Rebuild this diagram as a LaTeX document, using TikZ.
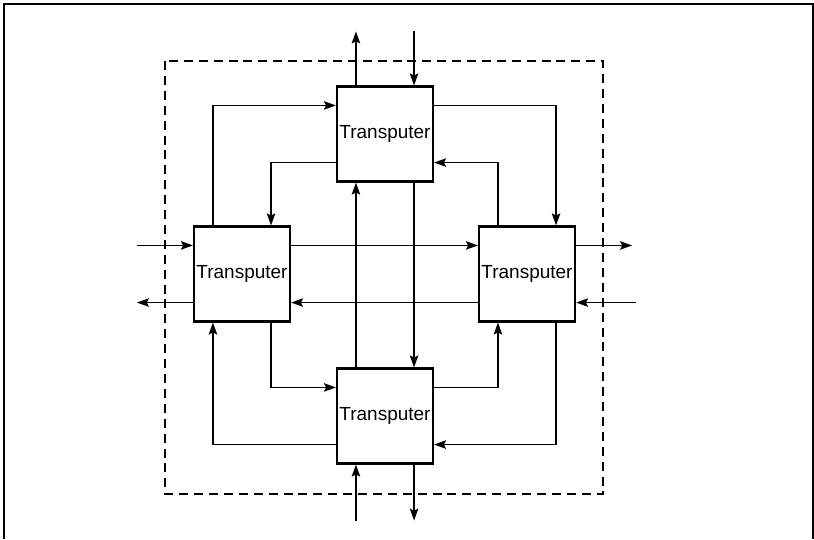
\documentclass[tikz,border=0pt]{standalone}
\usepackage{fontspec}
\setmainfont{Liberation Sans}
\usetikzlibrary{arrows.meta}

\begin{document}
\begin{tikzpicture}[x=0.025cm,y=-0.025cm,
	>={Stealth[length=8.5pt,width=6pt,inset=1.5pt]},
	link/.style={->,line width=1.2pt},
	tbox/.style={draw,line width=1.5pt,minimum width=2.4cm,minimum height=2.375cm,inner sep=1pt,font=\fontsize{13.5}{15}\selectfont}]
	\useasboundingbox (0,0) rectangle (814,539);
	\draw[line width=1.6pt] (4,539) -- (4,4) -- (813,4) -- (813,539);
	\draw[line width=1.2pt,dash pattern=on 6.4pt off 4.2pt] (165,61) rectangle (603,494);
	
									\foreach \x/\y [count=\n] in  
        							{385/134,242/274,527/274,385/416} 
           							\node[tbox](N\n) at (\x,\y) {Transputer};
           							
           							% free ends of the outside links
           							\coordinate (inL) at ([xshift=-1.4cm,yshift=-0.5cm]N2.north west);
           							\coordinate (outL) at ([xshift=-1.4cm,yshift=0.5cm]N2.south west);
           							\coordinate (outR) at ([xshift=1.4cm,yshift=-0.5cm]N3.north east);
           							\coordinate (inR) at ([xshift=1.5cm,yshift=0.5cm]N3.south east);
           							\coordinate (outT) at ([xshift=0.5cm,yshift=1.35cm]N1.north west);
           							\coordinate (inT) at ([xshift=-0.5cm,yshift=1.35cm]N1.north east);
           							\coordinate (inB) at ([xshift=0.5cm,yshift=-1.4cm]N4.south west);
           							\coordinate (outB) at ([xshift=-0.5cm,yshift=-1.4cm]N4.south east);
           							
           							\draw[link] (inL) -- ([yshift=-0.5cm]N2.north west);
           							\draw[link] ([yshift=0.5cm]N2.south west) -- (outL);
           							\draw[link] ([yshift=-0.5cm]N3.north east) -- (outR);
           							\draw[link] (inR) -- ([yshift=0.5cm]N3.south east);
           							\draw[link] ([xshift=0.5cm]N1.north west) -- (outT);
           							\draw[link] (inT) -- ([xshift=-0.5cm]N1.north east);
           							\draw[link] (inB) -- ([xshift=0.5cm]N4.south west);
           							\draw[link] ([xshift=-0.5cm]N4.south east) -- (outB);
           							
           							% links between the transputers
           							\draw[link] ([xshift=0.5cm]N2.north west) |- ([yshift=-0.5cm]N1.north west);
           							\draw[link] ([yshift=-0.5cm]N1.north east) -| ([xshift=-0.5cm]N3.north east);
           							\draw[link] ([yshift=0.5cm]N1.south west) -| ([xshift=-0.5cm]N2.north east);
           							\draw[link] ([xshift=0.5cm]N3.north west) |- ([yshift=0.5cm]N1.south east);
           							\draw[link] ([yshift=-0.5cm]N2.north east) -- ([yshift=-0.5cm]N3.north west);
           							\draw[link] ([yshift=0.5cm]N3.south west) -- ([yshift=0.5cm]N2.south east);
           							\draw[link] ([xshift=0.5cm]N4.north west) -- ([xshift=0.5cm]N1.south west);
           							\draw[link] ([xshift=-0.5cm]N1.south east) -- ([xshift=-0.5cm]N4.north east);
           							\draw[link] ([xshift=-0.5cm]N2.south east) |- ([yshift=-0.5cm]N4.north west);
           							\draw[link] ([yshift=-0.5cm]N4.north east) -| ([xshift=0.5cm]N3.south west);
           							\draw[link] ([xshift=-0.5cm]N3.south east) |- ([yshift=0.5cm]N4.south east);
           							\draw[link] ([yshift=0.5cm]N4.south west) -| ([xshift=0.5cm]N2.south west);
           						\end{tikzpicture}
\end{document}
